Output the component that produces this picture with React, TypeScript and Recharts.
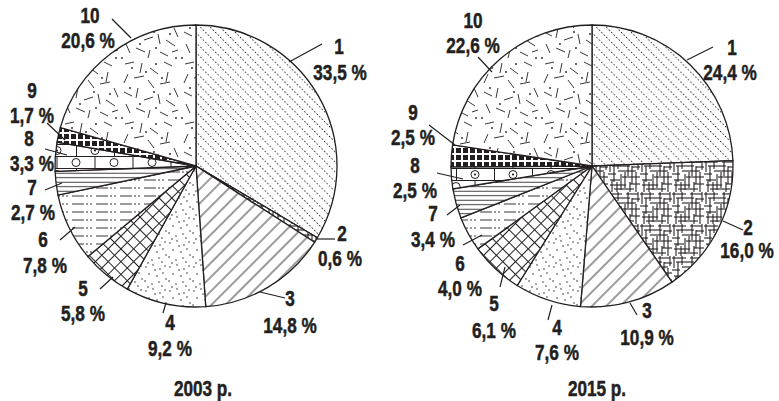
import React from 'react';
import { PieChart, Pie, Cell } from 'recharts';

// categories 1..10, shares in %
const categories = ['1', '2', '3', '4', '5', '6', '7', '8', '9', '10'];
const shares2003 = [33.5, 0.6, 14.8, 9.2, 5.8, 7.8, 2.7, 3.3, 1.7, 20.6];
const shares2015 = [24.4, 16.0, 10.9, 7.6, 6.1, 4.0, 3.4, 2.5, 2.5, 22.6];
const yearTitles = ['2003 р.', '2015 р.'];

const patternIds = ['p1', 'p2', 'p3', 'p4', 'p5', 'p6', 'p7', 'p8', 'p9', 'p10'];

// label layout relative to pie centre: [numX, numY, pctX, pctY, outerX, outerY, innerX, innerY]
const labels2003 = [
  [143, -120, 144, -94, 126, -122, 93, -104],
  [146, 67, 144, 92, 139, 73, 121, 73],
  [94, 132, 94, 159, 89, 132, 64, 126],
  [-26, 156, -26, 182, -33, 147, -30, 137],
  [-113, 122, -113, 147, -96, 123, -83, 111],
  [-153, 73, -151, 99, -136, 74, -121, 61],
  [-164, 21, -163, 46, -151, 24, -134, 17],
  [-167, -28, -164, -3, -151, -17, -129, -11],
  [-164, -76, -164, -51, -149, -43, -131, -26],
  [-106, -151, -108, -126, -84, -147, -65, -128],
];
const labels2015 = [
  [140, -119, 138, -94, 121, -119, 95, -106],
  [156, 61, 155, 84, 151, 64, 131, 55],
  [55, 144, 55, 171, 45, 149, 38, 137],
  [-35, 161, -35, 186, -44, 154, -40, 139],
  [-98, 137, -98, 164, -92, 121, -87, 101],
  [-132, 97, -132, 122, -129, 79, -110, 69],
  [-159, 47, -159, 73, -145, 49, -132, 39],
  [-177, -1, -177, 24, -155, 7, -129, 13],
  [-179, -54, -179, -29, -163, -41, -137, -21],
  [-119, -146, -119, -121, -114, -109, -100, -94],
];

const FONT = '"Liberation Sans", Arial, sans-serif';
const SQUEEZE = 0.78;
const FONT_SIZE = 22;
const INK = '#231f20';
const R = 141;
const pies = [
  { cx: 196, cy: 166, shares: shares2003, labels: labels2003, title: yearTitles[0], titleX: 203 },
  { cx: 592, cy: 166, shares: shares2015, labels: labels2015, title: yearTitles[1], titleX: 597 },
];

const fmt = (v: number) => v.toFixed(1).replace('.', ',') + ' %';

// texture bits for the hand-drawn fills
const dashBits = [
  [5, 4, 14, 2], [22, 3, 20, 13], [30, 8, 38, 14], [44, 2, 52, 6], [48, 12, 46, 22],
  [8, 14, 4, 23], [14, 18, 24, 16], [28, 20, 34, 28], [40, 24, 50, 22], [54, 28, 58, 37],
  [4, 32, 12, 36], [18, 28, 16, 38], [24, 40, 33, 37], [38, 34, 40, 44], [46, 40, 55, 46],
  [6, 44, 10, 53], [16, 48, 25, 52], [30, 50, 28, 58], [40, 52, 48, 56], [52, 52, 58, 50],
];
const dashDots = [[12, 8], [36, 4], [26, 12], [42, 18], [10, 28], [34, 32], [50, 34], [20, 44], [36, 48], [56, 58], [2, 58]];
const stipple = [[2, 3], [9, 1], [16, 5], [21, 2], [5, 10], [13, 12], [19, 9], [1, 17], [8, 20], [15, 18], [22, 15], [11, 6], [18, 22], [4, 23]];
const mazeH = [
  [0, 2, 14], [18, 2, 30], [4, 6, 22], [24, 7, 32], [10, 11, 28], [0, 14, 8],
  [14, 17, 32], [2, 20, 12], [2, 25, 18], [22, 24, 32], [6, 29, 26],
];
const mazeV = [
  [2, 0, 12], [6, 6, 22], [10, 0, 9], [13, 14, 30], [17, 12, 28], [20, 0, 16],
  [24, 6, 24], [28, 12, 32], [30, 0, 10], [4, 20, 32], [9, 22, 32], [22, 22, 32],
];

const Patterns = () => (
  <svg width={0} height={0} style={{ position: 'absolute' }}>
    <defs>
      <pattern id="p1" patternUnits="userSpaceOnUse" width={7} height={7} patternTransform="rotate(45)">
        <rect width={7} height={7} fill="#fff" />
        <line x1={0} y1={3.5} x2={7} y2={3.5} stroke={INK} strokeWidth={1.1} strokeDasharray="1.3 2.2" />
      </pattern>
      <pattern id="p2" patternUnits="userSpaceOnUse" width={32} height={32}>
        <rect width={32} height={32} fill="#fff" />
        {mazeH.map(([x1, y, x2], i) => (
          <line key={'h' + i} x1={x1} y1={y} x2={x2} y2={y} stroke={INK} strokeWidth={1.1} />
        ))}
        {mazeV.map(([x, y1, y2], i) => (
          <line key={'v' + i} x1={x} y1={y1} x2={x} y2={y2} stroke={INK} strokeWidth={1.1} />
        ))}
      </pattern>
      <pattern id="p3" patternUnits="userSpaceOnUse" width={10} height={10} patternTransform="rotate(-45)">
        <rect width={10} height={10} fill="#fff" />
        <line x1={0} y1={5} x2={10} y2={5} stroke={INK} strokeWidth={0.9} />
      </pattern>
      <pattern id="p4" patternUnits="userSpaceOnUse" width={24} height={24}>
        <rect width={24} height={24} fill="#fff" />
        {stipple.map(([x, y], i) => (
          <circle key={i} cx={x} cy={y} r={0.75} fill={INK} />
        ))}
      </pattern>
      <pattern id="p5" patternUnits="userSpaceOnUse" width={9} height={9} patternTransform="rotate(45)">
        <rect width={9} height={9} fill="#fff" />
        <line x1={0} y1={0.5} x2={9} y2={0.5} stroke={INK} strokeWidth={1} />
        <line x1={0.5} y1={0} x2={0.5} y2={9} stroke={INK} strokeWidth={1} />
      </pattern>
      <pattern id="p6" patternUnits="userSpaceOnUse" width={24} height={8}>
        <rect width={24} height={8} fill="#fff" />
        <line x1={0} y1={4} x2={24} y2={4} stroke={INK} strokeWidth={0.9} strokeDasharray="12 2 2 2 2 4" />
      </pattern>
      <pattern id="p7" patternUnits="userSpaceOnUse" width={10} height={4.5}>
        <rect width={10} height={4.5} fill="#fff" />
        <line x1={0} y1={2.2} x2={10} y2={2.2} stroke={INK} strokeWidth={0.9} />
      </pattern>
      <pattern id="p8" patternUnits="userSpaceOnUse" width={38} height={24}>
        <rect width={38} height={24} fill="#fff" />
        <line x1={0} y1={0.5} x2={38} y2={0.5} stroke={INK} strokeWidth={1} />
        <line x1={0} y1={12.5} x2={38} y2={12.5} stroke={INK} strokeWidth={1} />
        <line x1={0.5} y1={0} x2={0.5} y2={12} stroke={INK} strokeWidth={1} />
        <line x1={19} y1={12} x2={19} y2={24} stroke={INK} strokeWidth={1} />
        <circle cx={19} cy={6.5} r={4} fill="none" stroke={INK} strokeWidth={1} />
        <circle cx={19} cy={6.5} r={1.1} fill={INK} />
        <circle cx={0} cy={18.5} r={4} fill="none" stroke={INK} strokeWidth={1} />
        <circle cx={38} cy={18.5} r={4} fill="none" stroke={INK} strokeWidth={1} />
      </pattern>
      <pattern id="p9" patternUnits="userSpaceOnUse" width={7} height={7}>
        <rect width={7} height={7} fill="#fff" />
        <rect x={1} y={1} width={5} height={5} fill={INK} />
      </pattern>
      <pattern id="p10" patternUnits="userSpaceOnUse" width={60} height={60}>
        <rect width={60} height={60} fill="#fff" />
        {dashBits.map(([x1, y1, x2, y2], i) => (
          <line key={i} x1={x1} y1={y1} x2={x2} y2={y2} stroke={INK} strokeWidth={0.9} />
        ))}
        {dashDots.map(([x, y], i) => (
          <circle key={'d' + i} cx={x} cy={y} r={0.9} fill={INK} />
        ))}
      </pattern>
    </defs>
  </svg>
);

const NarrowText = ({ x, y, children }: { x: number; y: number; children: React.ReactNode }) => (
  <text
    transform={`translate(${x},${y}) scale(${SQUEEZE},1)`}
    x={0}
    y={0}
    textAnchor="middle"
    dominantBaseline="central"
    fontFamily={FONT}
    fontWeight="bold"
    fontSize={FONT_SIZE}
    fill={INK}
    stroke={INK}
    strokeWidth={0.5}
  >
    {children}
  </text>
);

const makeLabel = (pie: typeof pies[number]) => (props: any) => {
  const i = props.index;
  const [nx, ny, px, py, ox, oy, ix, iy] = pie.labels[i];
  const { cx, cy } = pie;
  return (
    <g key={'lbl-' + i}>
      <line x1={cx + ox} y1={cy + oy} x2={cx + ix} y2={cy + iy} stroke={INK} strokeWidth={1.2} />
      <NarrowText x={cx + nx} y={cy + ny}>{categories[i]}</NarrowText>
      <NarrowText x={cx + px} y={cy + py}>{fmt(pie.shares[i])}</NarrowText>
    </g>
  );
};

const App: React.FC = () => {
  return (
    <div style={{ position: 'absolute', left: 0, top: 0, width: 779, height: 401, background: '#fff' }}>
      <Patterns />
      <PieChart width={779} height={401} margin={{ top: 0, right: 0, bottom: 0, left: 0 }}>
        {pies.map((pie, k) => (
          <Pie
            key={k}
            data={categories.map((name, i) => ({ name, value: pie.shares[i] }))}
            dataKey="value"
            nameKey="name"
            cx={pie.cx}
            cy={pie.cy}
            outerRadius={R}
            startAngle={90}
            endAngle={-270}
            stroke={INK}
            strokeWidth={1.3}
            labelLine={false}
            label={makeLabel(pie)}
            isAnimationActive={false}
          >
            {categories.map((c, i) => (
              <Cell key={c} fill={`url(#${patternIds[i]})`} />
            ))}
          </Pie>
        ))}
      </PieChart>
      {pies.map((pie, k) => (
        <div
          key={k}
          style={{
            position: 'absolute',
            left: pie.titleX - 60,
            top: 376,
            width: 120,
            textAlign: 'center',
            fontFamily: FONT,
            fontWeight: 'bold',
            fontSize: FONT_SIZE,
            color: INK,
            lineHeight: '26px',
            transform: `scaleX(${SQUEEZE})`,
            WebkitTextStroke: `0.5px ${INK}`,
          }}
        >
          {pie.title}
        </div>
      ))}
    </div>
  );
};

export default App;
